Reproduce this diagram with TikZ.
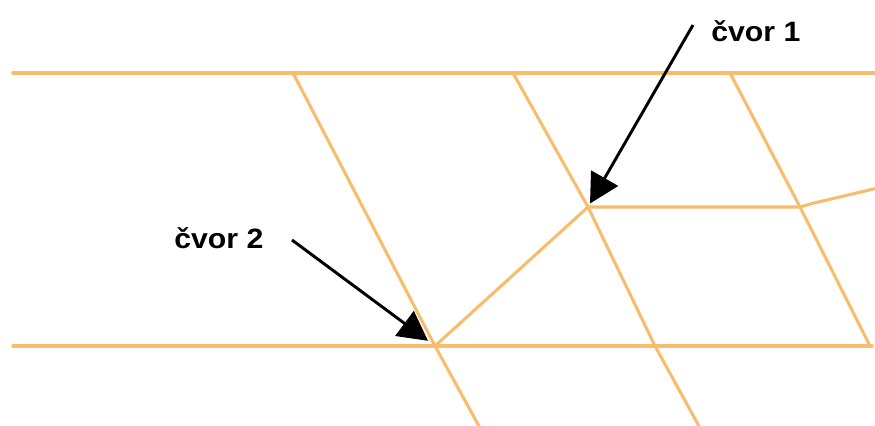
\documentclass[tikz,border=0pt]{standalone}
\usepackage{fontspec}
\setmainfont{Liberation Sans}
\usetikzlibrary{arrows.meta}
\definecolor{beam}{HTML}{F8BD6C}
\tikzset{
  chord/.style={draw=beam, line width=2.6pt, line cap=round},
  rib/.style={draw=beam, line width=2.3pt, line cap=round, line join=round},
  pointer/.style={-{Triangle[length=22pt, width=23pt]}, line width=2.2pt},
  tag/.style={font=\bfseries\fontsize{21}{24}\selectfont, inner sep=0pt,
    anchor=base west},
}
\newcommand{\wide}[1]{\scalebox{1.08}[1]{#1}}

\begin{document}
\begin{tikzpicture}[x=0.75pt, y=-0.75pt]
\useasboundingbox (0,0) rectangle (875,425);

%% ---- points of the mesh ------------------------------------------------
\coordinate (tl) at (13,73);   \coordinate (tr) at (878,73);
\coordinate (bl) at (13,346);  \coordinate (br) at (872,346);
\coordinate (a0) at (293,73);  \coordinate (cvor2) at (435,346);
\coordinate (a1) at (480,428);
\coordinate (b0) at (513,73);  \coordinate (cvor1) at (588,207);
\coordinate (b1) at (655,346); \coordinate (b2) at (700,428);
\coordinate (c0) at (730,73);  \coordinate (c1) at (800,207);
\coordinate (c2) at (870,346);
\coordinate (m0) at (814,203); \coordinate (m1) at (878,188);

% long horizontals
\draw[chord] (tl) -- (tr);
\draw[chord] (bl) -- (br);

% slanted ribs, top to bottom
\draw[rib] (a0) -- (cvor2) -- (a1);
\draw[rib] (b0) -- (cvor1) -- (b1) -- (b2);
\draw[rib] (c0) -- (c1) -- (c2);
\draw[rib] (cvor2) -- (cvor1);
\draw[rib] (cvor1) -- (c1) -- (m0) -- (m1);

%% ---- labels ------------------------------------------------------------
\node[tag] (lbl1) at (711,41) {\wide{čvor 1}};
\node[tag] (lbl2) at (174,248) {\wide{čvor 2}};
\coordinate (t1) at (693,25);
\coordinate (t2) at (292,240);
\draw[pointer, shorten >=3pt] (t1) -- (cvor1);
\draw[pointer, shorten >=6.5pt] (t2) -- (cvor2);

\end{tikzpicture}
\end{document}
